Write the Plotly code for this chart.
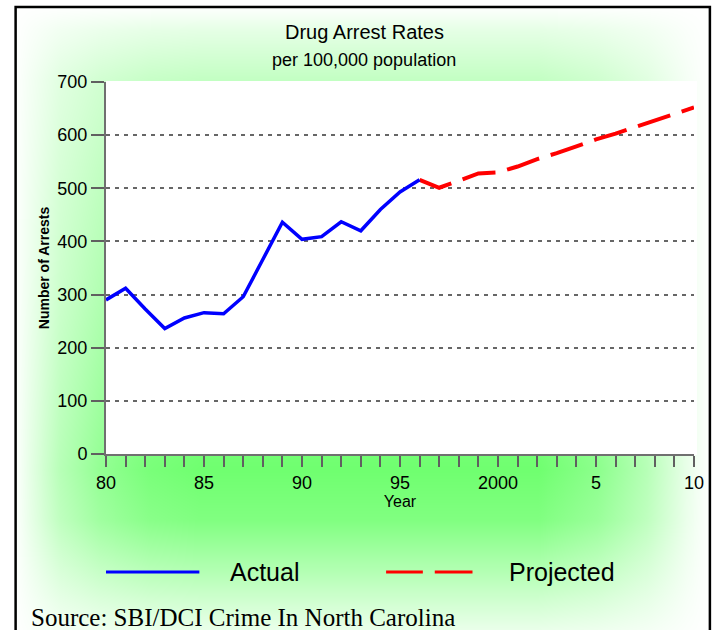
import base64
import struct
import zlib

import numpy as np
import plotly.graph_objects as go

# ---- data -------------------------------------------------------------
actual_years = list(range(1980, 1997))
actual_rates = [290, 312, 273, 236, 256, 266, 264, 296, 366, 436, 404, 409,
                437, 420, 460, 493, 516]

projected_years = list(range(1996, 2011))
projected_rates = [516, 501, 514, 528, 530, 541, 555, 566, 579, 592, 603,
                   615, 628, 640, 652]

tick_years = list(range(1980, 2011))
tick_labels = {1980: "80", 1985: "85", 1990: "90", 1995: "95",
               2000: "2000", 2005: "5", 2010: "10"}

# ---- page geometry (pixels) -------------------------------------------
W, H = 716, 630
L, R, T, B = 106, 698, 82, 454          # plot area edges
PW, PH = R - L, B - T


def px(x):
    return (x - L) / PW


def py(y):
    return (B - y) / PH


# ---- green glow behind the chart --------------------------------------
def glow_png():
    xs = np.arange(W)
    ys = np.arange(H)
    fx = np.interp(xs, [14, 30, 60, 100, 150, 200, 540, 600, 650, 690, 714],
                   [0, 0.18, 0.5, 0.75, 0.93, 1, 1, 0.8, 0.5, 0.15, 0])
    fy = np.interp(ys, [6, 30, 80, 200, 300, 470, 520, 560, 600, 640],
                   [0, 0.18, 0.42, 0.6, 0.72, 1.0, 0.88, 0.6, 0.33, 0.08])
    f = np.clip(fy[:, None] * fx[None, :], 0, 1)
    img = np.empty((H, W, 3), dtype=np.float64)
    img[..., 0] = 255 - f * (255 - 112)
    img[..., 1] = 255
    img[..., 2] = 255 - f * (255 - 112)
    img[81:455, 106:701, :] = 255
    img = img.astype(np.uint8)

    raw = b"".join(b"\x00" + img[r].tobytes() for r in range(H))

    def chunk(tag, data):
        c = struct.pack(">I", len(data)) + tag + data
        return c + struct.pack(">I", zlib.crc32(tag + data) & 0xFFFFFFFF)

    png = b"\x89PNG\r\n\x1a\n"
    png += chunk(b"IHDR", struct.pack(">IIBBBBB", W, H, 8, 2, 0, 0, 0))
    png += chunk(b"IDAT", zlib.compress(raw, 9))
    png += chunk(b"IEND", b"")
    return "data:image/png;base64," + base64.b64encode(png).decode()


fig = go.Figure()

fig.add_trace(go.Scatter(
    x=projected_years, y=projected_rates, mode="lines",
    line=dict(color="#ff0000", width=4, dash="34px,12px"),
    name="Projected", hoverinfo="x+y"))
fig.add_trace(go.Scatter(
    x=actual_years, y=actual_rates, mode="lines",
    line=dict(color="#0000ff", width=3.5),
    name="Actual", hoverinfo="x+y"))

sans = "Liberation Sans, Arial, sans-serif"
axis_font = dict(family=sans, size=18, color="black")

fig.update_xaxes(
    range=[1980, 2010], tickmode="array", tickvals=tick_years,
    ticktext=[tick_labels.get(y, "") for y in tick_years],
    ticks="outside", ticklen=11, tickwidth=1.6, tickcolor="#606060",
    showline=True, linecolor="#707070", linewidth=2, showgrid=False,
    zeroline=False, tickfont=axis_font,
    title=dict(text="Year", standoff=4,
               font=dict(family=sans, size=16, color="black")))

fig.update_yaxes(
    range=[0, 700], tickvals=[0, 100, 200, 300, 400, 500, 600, 700],
    ticks="outside", ticklen=13, tickwidth=1.6, tickcolor="#606060",
    showline=True, linecolor="#707070", linewidth=2,
    showgrid=True, gridcolor="#666666", gridwidth=2, griddash="4px,5px",
    zeroline=False, tickfont=axis_font,
    title=dict(text="<b>Number of Arrests</b>", standoff=4,
               font=dict(family=sans, size=14, color="black")))

annotations = [
    dict(text="Drug Arrest Rates", x=px(366), y=py(32),
         font=dict(family=sans, size=20, color="black")),
    dict(text="per 100,000 population", x=px(366), y=py(60),
         font=dict(family=sans, size=18, color="black")),
    dict(text="Actual", x=px(266), y=py(572),
         font=dict(family=sans, size=25, color="black")),
    dict(text="Projected", x=px(565), y=py(572),
         font=dict(family=sans, size=25, color="black")),
    dict(text="Source: SBI/DCI Crime In North Carolina", x=px(28), y=py(617),
         xanchor="left",
         font=dict(family="Liberation Serif, Times New Roman, serif",
                   size=25, color="black")),
]
for a in annotations:
    a.update(xref="paper", yref="paper", showarrow=False)
    a.setdefault("xanchor", "center")
    a["yanchor"] = "middle"

shapes = [
    # legend samples
    dict(type="line", x0=px(106), x1=px(200), y0=py(572), y1=py(572),
         line=dict(color="#0000ff", width=3)),
    dict(type="line", x0=px(388), x1=px(425), y0=py(572), y1=py(572),
         line=dict(color="#ff0000", width=3)),
    dict(type="line", x0=px(437), x1=px(475), y0=py(572), y1=py(572),
         line=dict(color="#ff0000", width=3)),
    # outer frame
    dict(type="rect", x0=px(15), x1=px(714), y0=py(7), y1=py(660),
         line=dict(color="black", width=2.5), fillcolor="rgba(0,0,0,0)"),
]
for s in shapes:
    s.update(xref="paper", yref="paper")

fig.update_layout(
    width=W, height=H, autosize=False,
    margin=dict(l=L, r=W - R, t=T, b=H - B, pad=0),
    paper_bgcolor="white", plot_bgcolor="white",
    showlegend=False,
    annotations=annotations, shapes=shapes,
    images=[dict(source=glow_png(), xref="paper", yref="paper",
                 x=-L / PW, y=1 + T / PH, sizex=W / PW, sizey=H / PH,
                 xanchor="left", yanchor="top", sizing="stretch",
                 layer="below")],
)

fig.write_html("out.html")
